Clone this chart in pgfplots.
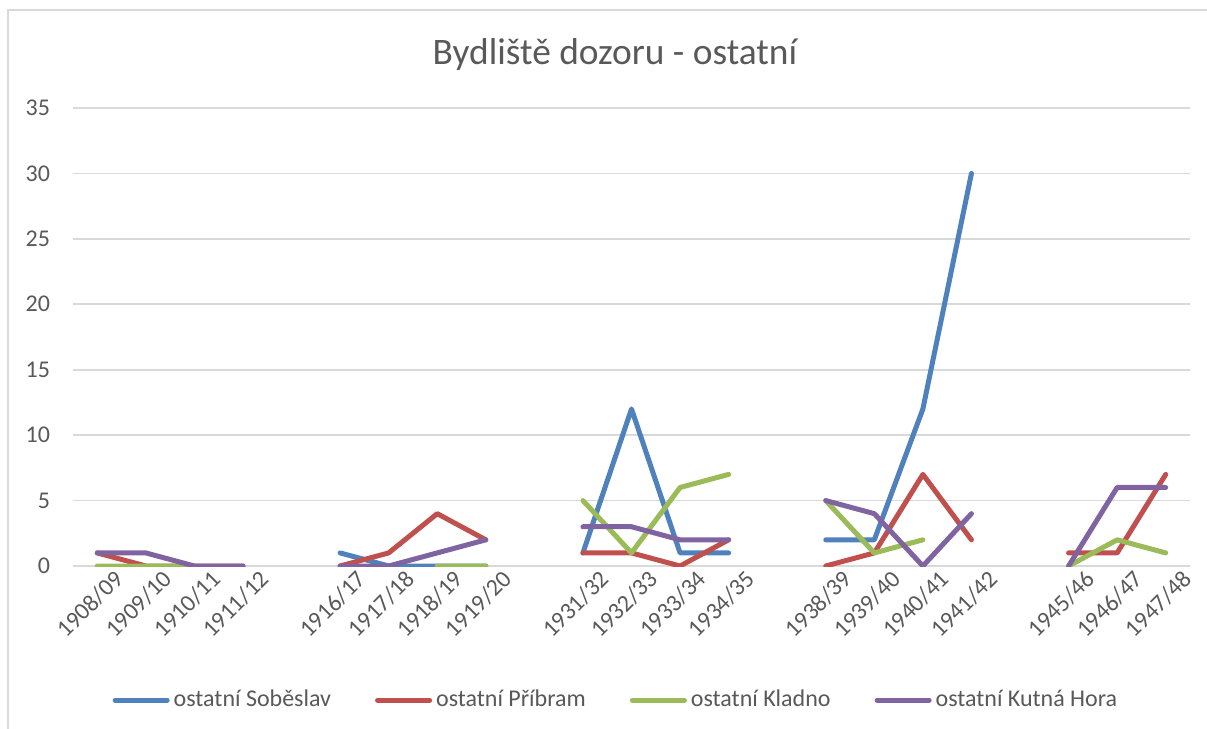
\documentclass[border=0pt]{standalone}
\usepackage{fontspec}
\setmainfont{Carlito}
\usepackage{pgfplots}
\pgfplotsset{compat=1.18}
\definecolor{sbl}{HTML}{4F81BD}
\definecolor{prb}{HTML}{C0504D}
\definecolor{kld}{HTML}{9BBB59}
\definecolor{kth}{HTML}{8064A2}
\definecolor{txt}{HTML}{595959}
\definecolor{grd}{HTML}{D9D9D9}
\begin{document}
\begin{tikzpicture}
\path[use as bounding box] (-36.5pt,-81.5pt) rectangle (567pt,283pt);
\draw[grd, line width=0.8pt] (-32.5pt,-81.5pt) -- (-32.5pt,278pt) -- (567pt,278pt);
\node[txt, font=\fontsize{18.7}{22}\selectfont] at (271pt,255.5pt) {Bydliště dozoru - ostatní};
\begin{axis}[
  at={(0,0)}, anchor=south west,
  scale only axis, width=558.5pt, height=229pt,
  xmin=-0.5, xmax=22.5, ymin=0, ymax=35,
  ytick={0,5,...,35},
  xtick={0,1,2,3,5,6,7,8,10,11,12,13,15,16,17,18,20,21,22},
  xticklabels={1908/09,1909/10,1910/11,1911/12,1916/17,1917/18,1918/19,1919/20,
    1931/32,1932/33,1933/34,1934/35,1938/39,1939/40,1940/41,1941/42,
    1945/46,1946/47,1947/48},
  axis line style={draw=none},
  major tick length=0pt,
  ymajorgrids, major grid style={grd, line width=0.8pt},
  ticklabel style={txt, font=\fontsize{12}{14}\selectfont},
  /pgf/number format/assume math mode=true,
  yticklabel style={anchor=east, xshift=-8pt},
  xticklabel style={rotate=45, anchor=north east, xshift=8pt, yshift=-3pt},
  unbounded coords=jump,
  every axis plot/.append style={line width=2.5pt, line cap=round, line join=round, no marks},
  legend columns=4,
  legend style={at={(0.487,0)}, anchor=center, yshift=-67pt, draw=none,
    font=\fontsize{12}{14}\selectfont, text=txt, inner sep=0pt,
    /tikz/every even column/.append style={column sep=20pt}},
  legend cell align=left,
  legend image code/.code={\draw[#1, line cap=round] (0pt,0pt) -- (26pt,0pt);},
]
\addplot[sbl] coordinates {(0,nan)(1,nan)(2,nan)(3,nan)(4,nan)
  (5,1)(6,0)(7,0)(8,0)(9,nan)
  (10,1)(11,12)(12,1)(13,1)(14,nan)
  (15,2)(16,2)(17,12)(18,30)(19,nan)(20,nan)(21,nan)(22,nan)};
\addlegendentry{ostatní Soběslav}
\addplot[prb] coordinates {(0,1)(1,0)(2,0)(3,0)(4,nan)
  (5,0)(6,1)(7,4)(8,2)(9,nan)
  (10,1)(11,1)(12,0)(13,2)(14,nan)
  (15,0)(16,1)(17,7)(18,2)(19,nan)
  (20,1)(21,1)(22,7)};
\addlegendentry{ostatní Příbram}
\addplot[kld] coordinates {(0,0)(1,0)(2,0)(3,nan)(4,nan)
  (5,nan)(6,nan)(7,0)(8,0)(9,nan)
  (10,5)(11,1)(12,6)(13,7)(14,nan)
  (15,5)(16,1)(17,2)(18,nan)(19,nan)
  (20,0)(21,2)(22,1)};
\addlegendentry{ostatní Kladno}
\addplot[kth] coordinates {(0,1)(1,1)(2,0)(3,0)(4,nan)
  (5,0)(6,0)(7,1)(8,2)(9,nan)
  (10,3)(11,3)(12,2)(13,2)(14,nan)
  (15,5)(16,4)(17,0)(18,4)(19,nan)
  (20,0)(21,6)(22,6)};
\addlegendentry{ostatní Kutná Hora}
\end{axis}
\end{tikzpicture}
\end{document}
